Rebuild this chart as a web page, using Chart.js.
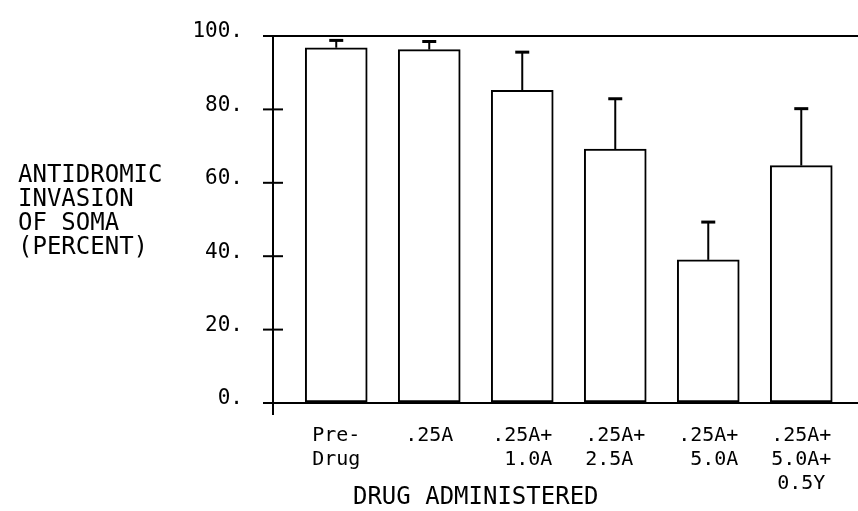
<!DOCTYPE html>
<html>
<head>
<meta charset="utf-8">
<script src="https://cdn.jsdelivr.net/npm/chart.js@4/dist/chart.umd.min.js"></script>
<style>
  html, body { margin: 0; padding: 0; background: #fff; }
  #wrap { width: 858px; height: 511px; }
</style>
</head>
<body>
<div id="wrap"><canvas id="chart"></canvas></div>
<script>
// data
const categories = [['Pre-', 'Drug'], ['.25A'], ['.25A+', ' 1.0A'], ['.25A+', '2.5A '], ['.25A+', ' 5.0A'], ['.25A+', '5.0A+', '0.5Y']];
const invasion = [96.8, 96.3, 85.2, 69.2, 39.0, 64.7];
const errUp = [2.0, 2.2, 10.4, 13.7, 10.3, 15.5];
const yTicks = [0, 20, 40, 60, 80, 100];
const yTitleLines = ['ANTIDROMIC', 'INVASION', 'OF SOMA', '(PERCENT)'];
const xTitle = 'DRUG ADMINISTERED';

const FONT = "'DejaVu Sans Mono', 'Liberation Mono', monospace";
Chart.defaults.font.family = FONT;
Chart.defaults.color = '#000';

// error whiskers, crossing ticks and the hand-placed titles
const plotterMarks = {
    id: 'plotterMarks',
    afterDatasetsDraw(chart) {
        const { ctx, scales: { x, y } } = chart;
        ctx.save();
        ctx.strokeStyle = '#000';

        invasion.forEach((v, i) => {
            const px = x.getPixelForValue(i);
            const y0 = y.getPixelForValue(v);
            const y1 = y.getPixelForValue(v + errUp[i]);
            ctx.lineWidth = 2;
            ctx.beginPath();
            ctx.moveTo(px, y0);
            ctx.lineTo(px, y1);
            ctx.stroke();
            ctx.lineWidth = 3;
            ctx.beginPath();
            ctx.moveTo(px - 7, y1);
            ctx.lineTo(px + 7, y1);
            ctx.stroke();
        });

        ctx.lineWidth = 2;
        yTicks.forEach(t => {
            const py = y.getPixelForValue(t);
            ctx.beginPath();
            ctx.moveTo(x.left - 10, py);
            ctx.lineTo(x.left + 10, py);
            ctx.stroke();
        });
        // y axis pokes out below the x axis
        ctx.beginPath();
        ctx.moveTo(x.left, y.bottom);
        ctx.lineTo(x.left, y.bottom + 12);
        ctx.stroke();

        ctx.fillStyle = '#000';
        ctx.font = '24px ' + FONT;
        ctx.textAlign = 'left';
        ctx.textBaseline = 'middle';
        yTitleLines.forEach((line, i) => {
            ctx.fillText(line, 18, 176 + i * 24);
        });

        ctx.textAlign = 'center';
        ctx.fillText(xTitle, x.getPixelForValue(1.5), y.bottom + 95);
        ctx.restore();
    }
};

const ctx = document.getElementById('chart').getContext('2d');
new Chart(ctx, {
    type: 'bar',
    data: {
        datasets: [{
            data: invasion.map((v, i) => ({ x: i, y: v })),
            backgroundColor: '#fff',
            borderColor: '#000',
            borderWidth: 2,
            borderSkipped: false,
            barThickness: 62
        }]
    },
    options: {
        responsive: true,
        maintainAspectRatio: false,
        animation: false,
        layout: { padding: { top: 36, right: 0, bottom: 0, left: 0 } },
        plugins: {
            legend: { display: false },
            tooltip: { enabled: false }
        },
        scales: {
            x: {
                type: 'linear',
                offset: false,
                min: -0.68,
                max: 5.61,
                afterBuildTicks: scale => {
                    scale.ticks = categories.map((_, i) => ({ value: i }));
                },
                afterFit: scale => {
                    scale.height = 108;
                    scale.paddingLeft = 0;
                    scale.paddingRight = 0;
                },
                ticks: {
                    autoSkip: false,
                    maxRotation: 0,
                    padding: 13,
                    font: { size: 20, lineHeight: 1.2 },
                    callback: (value) => categories[value]
                },
                grid: { display: false },
                border: { display: true, color: '#000', width: 2 }
            },
            y: {
                min: 0,
                max: 100,
                afterBuildTicks: scale => {
                    scale.ticks = yTicks.map(v => ({ value: v }));
                },
                afterFit: scale => {
                    scale.width = 273;
                    scale.paddingTop = 0;
                    scale.paddingBottom = 0;
                },
                ticks: {
                    padding: 30,
                    labelOffset: -4,
                    font: { size: 21 },
                    callback: v => v + '.'
                },
                grid: {
                    drawTicks: false,
                    lineWidth: 2,
                    color: c => (c.tick && c.tick.value === 100 ? '#000' : 'rgba(0,0,0,0)')
                },
                border: { display: true, color: '#000', width: 2 }
            }
        }
    },
    plugins: [plotterMarks]
});
</script>
</body>
</html>
